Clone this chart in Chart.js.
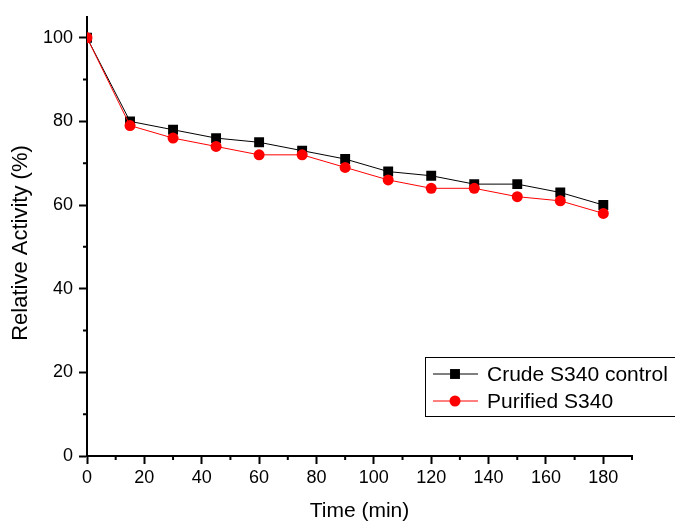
<!DOCTYPE html>
<html>
<head>
<meta charset="utf-8">
<script src="https://cdn.jsdelivr.net/npm/chart.js@4/dist/chart.umd.min.js"></script>
<style>
    html, body { margin: 0; padding: 0; background: #fff; }
    #wrap { width: 675px; height: 523px; }
</style>
</head>
<body>
<div id="wrap"><canvas id="chart" width="675" height="523"></canvas></div>
<script>
// Sampling times (min) and relative activity (%)
const times = [0, 15, 30, 45, 60, 75, 90, 105, 120, 135, 150, 165, 180];
const crudeValues = [100, 80, 78, 76, 75, 73, 71, 68, 67, 65, 65, 63, 60];
const purifiedValues = [100, 79, 76, 74, 72, 72, 69, 66, 64, 64, 62, 61, 58];
const xTicks = [0, 20, 40, 60, 80, 100, 120, 140, 160, 180];
const yTicks = [0, 20, 40, 60, 80, 100];
const xMinorTicks = [10, 30, 50, 70, 90, 110, 130, 150, 170, 190];
const yMinorTicks = [10, 30, 50, 70, 90];

const FONT = "'Liberation Sans', Arial, sans-serif";

// Short minor ticks on both axes + rotated y title
const axisExtras = {
    id: 'axisExtras',
    afterDraw(chart) {
        const ctx = chart.ctx;
        const xs = chart.scales.x, ys = chart.scales.y;
        ctx.save();
        ctx.strokeStyle = '#000';
        ctx.lineWidth = 2;
        ctx.beginPath();
        xMinorTicks.forEach(v => {
            const px = xs.getPixelForValue(v);
            ctx.moveTo(px, xs.top);
            ctx.lineTo(px, xs.top + 4);
        });
        yMinorTicks.forEach(v => {
            const py = ys.getPixelForValue(v);
            ctx.moveTo(ys.right, py);
            ctx.lineTo(ys.right - 4, py);
        });
        ctx.stroke();

        ctx.translate(21, 243);
        ctx.rotate(-Math.PI / 2);
        ctx.fillStyle = '#000';
        ctx.font = '22px ' + FONT;
        ctx.textAlign = 'center';
        ctx.textBaseline = 'middle';
        ctx.fillText('Relative Activity (%)', 0, 0);
        ctx.restore();
    }
};

// Boxed legend with line + marker samples, like the original
const boxLegend = {
    id: 'boxLegend',
    afterDraw(chart) {
        const ctx = chart.ctx;
        ctx.save();
        ctx.strokeStyle = '#000';
        ctx.lineWidth = 1;
        ctx.strokeRect(425.5, 357.5, 260, 59);
        const rows = [374, 401];
        const sets = [chart.data.datasets[1], chart.data.datasets[0]];
        sets.forEach((ds, i) => {
            const y = rows[i];
            ctx.strokeStyle = ds.borderColor;
            ctx.lineWidth = 1;
            ctx.beginPath();
            ctx.moveTo(433, y);
            ctx.lineTo(478, y);
            ctx.stroke();
            ctx.fillStyle = ds.pointBackgroundColor;
            ctx.beginPath();
            if (ds.pointStyle === 'rect') {
                const s = Math.SQRT1_2 * ds.pointRadius;
                ctx.rect(455 - s, y - s, 2 * s, 2 * s);
            } else {
                ctx.arc(455, y, ds.pointRadius, 0, Math.PI * 2);
            }
            ctx.fill();
            ctx.fillStyle = '#000';
            ctx.font = '21px ' + FONT;
            ctx.textBaseline = 'middle';
            ctx.fillText(ds.label, 487, y + 1);
        });
        ctx.restore();
    }
};

new Chart(document.getElementById('chart'), {
    type: 'line',
    data: {
        datasets: [
            {
                label: 'Purified S340',
                data: times.map((t, i) => ({ x: t, y: purifiedValues[i] })),
                borderColor: '#ff0000',
                backgroundColor: '#ff0000',
                pointBackgroundColor: '#ff0000',
                pointBorderWidth: 0,
                pointStyle: 'circle',
                pointRadius: 5.5,
                borderWidth: 1,
                order: 0
            },
            {
                label: 'Crude S340 control',
                data: times.map((t, i) => ({ x: t, y: crudeValues[i] })),
                borderColor: '#000000',
                backgroundColor: '#000000',
                pointBackgroundColor: '#000000',
                pointBorderWidth: 0,
                pointStyle: 'rect',
                pointRadius: 7,
                borderWidth: 1,
                order: 1
            }
        ]
    },
    options: {
        responsive: false,
        animation: false,
        layout: { padding: { top: 15, right: 43, left: 0, bottom: 0 } },
        plugins: { legend: { display: false }, tooltip: { enabled: false } },
        scales: {
            x: {
                type: 'linear',
                min: 0,
                max: 190,
                afterBuildTicks: scale => { scale.ticks = xTicks.map(v => ({ value: v })); },
                afterFit: scale => { scale.height = 67; },
                grid: { drawOnChartArea: false, tickLength: 8, tickWidth: 2, tickColor: '#000' },
                border: { display: true, color: '#000', width: 2 },
                ticks: { color: '#000', font: { family: FONT, size: 18 }, padding: 3, maxRotation: 0 },
                title: {
                    display: true,
                    text: 'Time (min)',
                    color: '#000',
                    font: { family: FONT, size: 21, lineHeight: 1.1 },
                    padding: { top: 0, bottom: 0 }
                }
            },
            y: {
                min: 0,
                max: 105,
                afterBuildTicks: scale => { scale.ticks = yTicks.map(v => ({ value: v })); },
                afterFit: scale => { scale.width = 87; },
                grid: { drawOnChartArea: false, tickLength: 8, tickWidth: 2, tickColor: '#000' },
                border: { display: true, color: '#000', width: 2 },
                ticks: { color: '#000', font: { family: FONT, size: 18 }, padding: 6 }
            }
        }
    },
    plugins: [axisExtras, boxLegend]
});
</script>
</body>
</html>
